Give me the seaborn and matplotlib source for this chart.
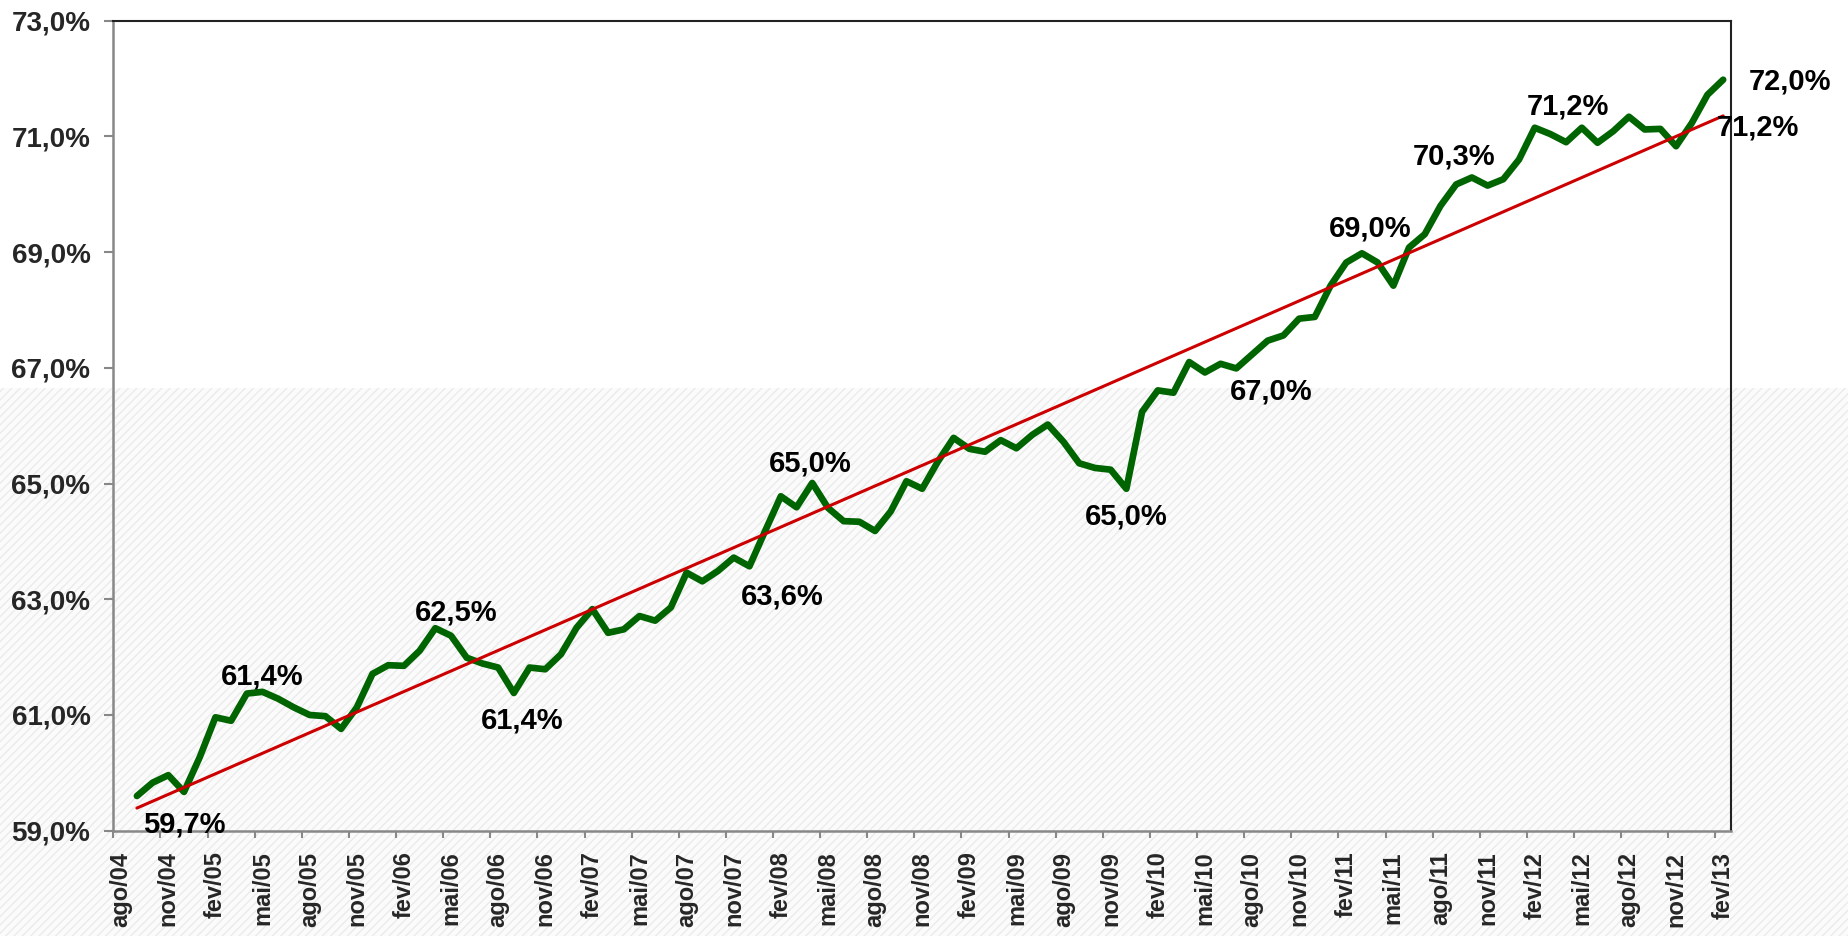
import numpy as np
import pandas as pd
import matplotlib.pyplot as plt
import seaborn as sns
from matplotlib.patches import Rectangle
from matplotlib.ticker import FuncFormatter

# rotulos do eixo x (a cada 3 meses)
meses = ['ago/04', 'nov/04', 'fev/05', 'mai/05', 'ago/05', 'nov/05', 'fev/06', 'mai/06',
         'ago/06', 'nov/06', 'fev/07', 'mai/07', 'ago/07', 'nov/07', 'fev/08', 'mai/08',
         'ago/08', 'nov/08', 'fev/09', 'mai/09', 'ago/09', 'nov/09', 'fev/10', 'mai/10',
         'ago/10', 'nov/10', 'fev/11', 'mai/11', 'ago/11', 'nov/11', 'fev/12', 'mai/12',
         'ago/12', 'nov/12', 'fev/13']

# serie mensal (set/04 a fev/13), em %
taxa = [59.60, 59.83, 59.96, 59.67, 60.27, 60.96, 60.90, 61.37, 61.40, 61.28,
        61.13, 61.00, 60.98, 60.76, 61.13, 61.71, 61.86, 61.85, 62.11, 62.50,
        62.37, 61.99, 61.89, 61.82, 61.38, 61.82, 61.79, 62.05, 62.51, 62.83,
        62.42, 62.48, 62.71, 62.63, 62.86, 63.46, 63.31, 63.49, 63.72, 63.57,
        64.18, 64.78, 64.59, 65.01, 64.58, 64.35, 64.34, 64.18, 64.52, 65.04,
        64.91, 65.38, 65.79, 65.60, 65.55, 65.75, 65.61, 65.84, 66.02, 65.72,
        65.35, 65.27, 65.24, 64.91, 66.24, 66.61, 66.57, 67.10, 66.92, 67.07,
        66.99, 67.23, 67.47, 67.56, 67.85, 67.88, 68.42, 68.82, 68.98, 68.82,
        68.42, 69.08, 69.31, 69.80, 70.17, 70.29, 70.15, 70.26, 70.60, 71.15,
        71.04, 70.90, 71.15, 70.89, 71.09, 71.34, 71.12, 71.13, 70.83, 71.23,
        71.72, 71.98]

# rotulos de dados: mes (1 = set/04) e texto
rotulo_mes = [4, 9, 20, 25, 40, 44, 64, 71, 79, 86, 90, 102]
rotulo_txt = ['59,7%', '61,4%', '62,5%', '61,4%', '63,6%', '65,0%', '65,0%',
              '67,0%', '69,0%', '70,3%', '71,2%', '72,0%']
rotulo_tend = '71,2%'

df = pd.DataFrame({'pos': np.arange(len(taxa)) + 1.5, 'taxa': taxa})

sns.set_theme(style='white')
plt.rcParams['font.family'] = ['Liberation Sans', 'DejaVu Sans']
plt.rcParams['hatch.color'] = '#ebebeb'
plt.rcParams['hatch.linewidth'] = 1.0

fig = plt.figure(figsize=(18.49, 9.36), dpi=100)
fig.patch.set_facecolor('white')
# faixa hachurada do fundo do slide
fig.patches.append(Rectangle((0, 0), 1, 0.5855, transform=fig.transFigure,
                             facecolor='#fbfbfb', edgecolor='#ebebeb', hatch='////',
                             lw=0, zorder=-10))

ax = fig.add_axes([0.0613, 0.1125, 0.8749, 0.8654])
ax.set_facecolor('none')

sns.lineplot(data=df, x='pos', y='taxa', color='#006400', lw=4.8, ax=ax,
             solid_capstyle='round', solid_joinstyle='round')
sns.regplot(data=df, x='pos', y='taxa', scatter=False, ci=None, ax=ax,
            color='#cc0000', line_kws={'lw': 2.2})

ax.set_xlim(0, 103)
ax.set_ylim(59, 73)
ax.set_yticks(np.arange(59, 73.1, 2))
ax.yaxis.set_major_formatter(FuncFormatter(lambda v, p: f'{v:.1f}%'.replace('.', ',')))
ax.set_xticks(np.arange(len(meses)) * 3 + 0.5)
ax.set_xticklabels(meses, rotation=90, fontsize=17, fontweight='bold',
                   family=['Liberation Sans Narrow', 'Liberation Sans'], va='top')
ax.set_xticks(np.arange(len(meses)) * 3, minor=True)
ax.tick_params(axis='x', which='major', length=0, pad=15)
ax.tick_params(axis='x', which='minor', length=5, width=1.5, color='#888888', direction='out', bottom=True)
ax.tick_params(axis='y', length=6.5, width=1.5, color='#888888', direction='out', left=True, pad=10)
for t in ax.get_yticklabels():
    t.set_fontsize(20)
    t.set_fontweight('bold')
ax.set_xlabel('')
ax.set_ylabel('')

for s in ['left', 'bottom']:
    ax.spines[s].set_color('#888888')
    ax.spines[s].set_linewidth(1.8)
for s in ['top', 'right']:
    ax.spines[s].set_color('#222222')
    ax.spines[s].set_linewidth(1.5)

desloc = [(0, -33), (0, 15), (21, 16), (8, -28), (33, -30), (-2, 19), (0, -28),
          (35, -23), (8, 25), (-18, 21), (33, 21), (67, -2)]
for m, txt, (dx, dy) in zip(rotulo_mes, rotulo_txt, desloc):
    ax.annotate(txt, xy=(df['pos'][m - 1], df['taxa'][m - 1]), xytext=(dx, dy),
                textcoords='offset pixels', ha='center', va='center',
                fontsize=21, fontweight='bold', color='black', annotation_clip=False)

linha_tend = ax.lines[-1]
ax.annotate(rotulo_tend, xy=(linha_tend.get_xdata()[-1], linha_tend.get_ydata()[-1]),
            xytext=(35, -12), textcoords='offset pixels', ha='center', va='center',
            fontsize=21, fontweight='bold', color='black', annotation_clip=False)

fig.savefig('out.png', dpi=100)
